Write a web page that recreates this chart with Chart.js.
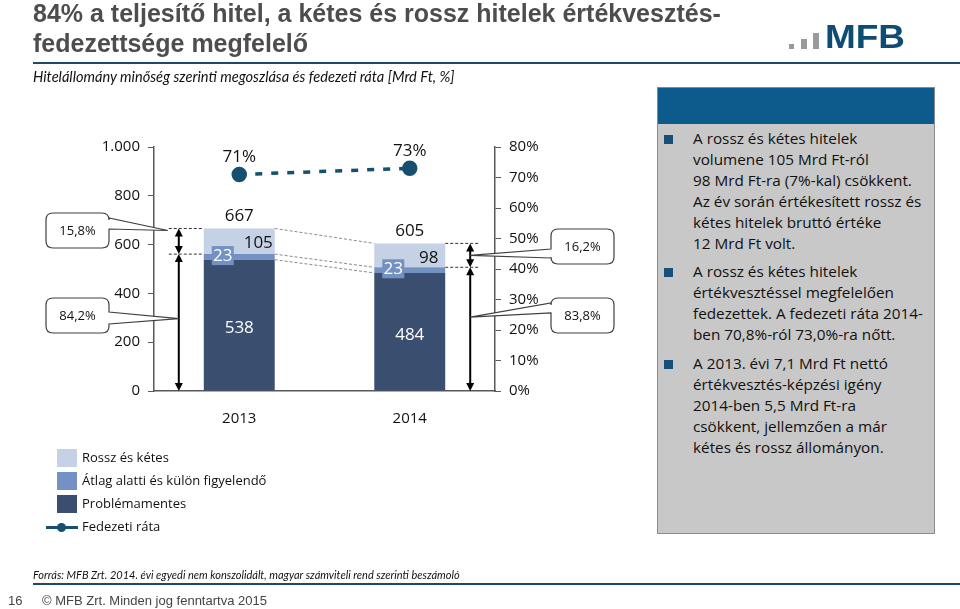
<!DOCTYPE html>
<html lang="hu">
<head>
<meta charset="utf-8">
<script src="https://cdn.jsdelivr.net/npm/chart.js@4.4.1/dist/chart.umd.min.js"></script>
<style>
  html, body { margin: 0; padding: 0; background: #fff; }
  body { width: 960px; height: 609px; position: relative; overflow: hidden; font-family: "Open Sans", sans-serif; }
  #chart { position: absolute; left: 0; top: 0; }
  .title { position: absolute; left: 33px; top: -2px; font: bold 25px "Liberation Sans", Arial, sans-serif; color: #4d4d4d; line-height: 30px; }
  .rule { position: absolute; left: 33px; right: 0; height: 2px; background: #1d4a6a; }
  .subtitle { position: absolute; left: 33px; top: 68px; font: italic 14.6px "Lato", sans-serif; color: #111; }
  .logo { position: absolute; left: 825px; top: 18px; font: 900 33px "Liberation Sans", Arial, sans-serif; color: #0e4c74; transform: scaleX(1.12); transform-origin: left top; }
  .lbar { position: absolute; background: #9a9a9a; }
  .panel { position: absolute; left: 657px; top: 87px; width: 276px; height: 445px; background: #c8c8c8; border: 1px solid #8a8a8a; }
  .panel .head { height: 36px; background: #0d5a8c; }
  .panel .item { position: absolute; left: 35px; font-size: 15.3px; line-height: 20.9px; color: #111; white-space: nowrap; }
  .panel .sq { position: absolute; left: 6px; width: 9px; height: 9px; background: #165078; }
  .legend { position: absolute; left: 0; top: 0; font-size: 13px; color: #111; }
  .lg-sq { position: absolute; left: 57px; width: 20px; height: 18px; }
  .lg-tx { position: absolute; left: 82px; white-space: nowrap; }
  .src { position: absolute; left: 33px; top: 568px; font: italic 11px "Lato", sans-serif; color: #111; }
  .foot { position: absolute; top: 593px; font: 13px "Liberation Sans", Arial, sans-serif; color: #444; }
</style>
</head>
<body>
<canvas id="chart" width="960" height="609"></canvas>

<div class="title">84% a teljesítő hitel, a kétes és rossz hitelek értékvesztés-<br>fedezettsége megfelelő</div>
<div class="rule" style="top:62px"></div>
<div class="subtitle">Hitelállomány minőség szerinti megoszlása és fedezeti ráta [Mrd Ft, %]</div>

<div class="lbar" style="left:789px;top:44px;height:5px;width:5px"></div>
<div class="lbar" style="left:801px;top:39px;height:10px;width:6px"></div>
<div class="lbar" style="left:813px;top:33px;height:16px;width:6px"></div>
<div class="logo">MFB</div>

<div class="panel">
  <div class="head"></div>
  <div class="sq" style="top:47px"></div>
  <div class="item" style="top:40px">A rossz és kétes hitelek<br>volumene 105 Mrd Ft-ról<br>98 Mrd Ft-ra (7%-kal) csökkent.<br>Az év során értékesített rossz és<br>kétes hitelek bruttó értéke<br>12 Mrd Ft volt.</div>
  <div class="sq" style="top:180px"></div>
  <div class="item" style="top:173px">A rossz és kétes hitelek<br>értékvesztéssel megfelelően<br>fedezettek. A fedezeti ráta 2014-<br>ben 70,8%-ról 73,0%-ra nőtt.</div>
  <div class="sq" style="top:272px"></div>
  <div class="item" style="top:265px">A 2013. évi 7,1 Mrd Ft nettó<br>értékvesztés-képzési igény<br>2014-ben 5,5 Mrd Ft-ra<br>csökkent, jellemzően a már<br>kétes és rossz állományon.</div>
</div>

<div class="legend" id="legend"></div>

<div class="src">Forrás: MFB Zrt. 2014. évi egyedi nem konszolidált, magyar számviteli rend szerinti beszámoló</div>
<div class="rule" style="top:583px"></div>
<div class="foot" style="left:8px">16</div>
<div class="foot" style="left:42px">© MFB Zrt. Minden jog fenntartva 2015</div>

<script>
/* ----------------------------------------------------------
   DATA
---------------------------------------------------------- */
const years = ["2013", "2014"];
const problemFree = [538, 484];      // Problémamentes
const watchList = [23, 23];          // Átlag alatti és külön figyelendő
const badDoubtful = [105, 98];       // Rossz és kétes
const totals = [667, 605];
const coverage = [71, 73];           // Fedezeti ráta, %
const badShare = ["15,8%", "16,2%"];
const goodShare = ["84,2%", "83,8%"];
const seriesNames = ["Rossz és kétes", "Átlag alatti és külön figyelendő", "Problémamentes", "Fedezeti ráta"];

const COL_DARK = "#3a4e6f";
const COL_MID = "#7391c2";
const COL_LIGHT = "#c5d1e5";
const COL_LINE = "#17506f";
const FONT = "'Open Sans', sans-serif";

/* ----------------------------------------------------------
   LEGEND (html)
---------------------------------------------------------- */
const legendEl = document.getElementById("legend");
const legendCols = [COL_LIGHT, COL_MID, COL_DARK];
seriesNames.forEach((name, i) => {
  const top = 449 + i * 23;
  if (i < 3) {
    legendEl.insertAdjacentHTML("beforeend",
      `<div class="lg-sq" style="top:${top}px;background:${legendCols[i]}"></div>`);
  } else {
    legendEl.insertAdjacentHTML("beforeend",
      `<div style="position:absolute;left:46px;top:${top + 8}px;width:32px;height:3px;background:${COL_LINE}"></div>
       <div style="position:absolute;left:57px;top:${top + 5}px;width:9px;height:9px;border-radius:50%;background:${COL_LINE}"></div>`);
  }
  legendEl.insertAdjacentHTML("beforeend",
    `<div class="lg-tx" style="top:${top - 1}px">${name}</div>`);
});

/* ----------------------------------------------------------
   HELPERS FOR OVERLAY
---------------------------------------------------------- */
function arrowHead(ctx, x, y, dir) {
  ctx.beginPath();
  ctx.moveTo(x, y);
  ctx.lineTo(x - 4, y + dir * 8);
  ctx.lineTo(x + 4, y + dir * 8);
  ctx.closePath();
  ctx.fill();
}

function doubleArrow(ctx, x, y1, y2) {
  ctx.save();
  ctx.strokeStyle = "#000";
  ctx.fillStyle = "#000";
  ctx.lineWidth = 2;
  ctx.beginPath();
  ctx.moveTo(x, y1 + 5);
  ctx.lineTo(x, y2 - 5);
  ctx.stroke();
  arrowHead(ctx, x, y1, 1);
  arrowHead(ctx, x, y2, -1);
  ctx.restore();
}

function dashed(ctx, x1, y1, x2, y2, color) {
  ctx.save();
  ctx.strokeStyle = color || "#555";
  ctx.lineWidth = 1;
  ctx.setLineDash([3, 2]);
  ctx.beginPath();
  ctx.moveTo(x1, y1);
  ctx.lineTo(x2, y2);
  ctx.stroke();
  ctx.restore();
}

// rounded box with a wedge pointing to (tx, ty); side = "right" or "left"
function callout(ctx, bx, by, bw, bh, w1, w2, tx, ty, side, text) {
  const r = 7;
  ctx.save();
  ctx.fillStyle = "#fff";
  ctx.strokeStyle = "#404040";
  ctx.lineWidth = 1.2;
  ctx.beginPath();
  ctx.moveTo(bx + r, by);
  ctx.lineTo(bx + bw - r, by);
  ctx.quadraticCurveTo(bx + bw, by, bx + bw, by + r);
  if (side === "right") {
    ctx.lineTo(bx + bw, w1);
    ctx.lineTo(tx, ty);
    ctx.lineTo(bx + bw, w2);
  }
  ctx.lineTo(bx + bw, by + bh - r);
  ctx.quadraticCurveTo(bx + bw, by + bh, bx + bw - r, by + bh);
  ctx.lineTo(bx + r, by + bh);
  ctx.quadraticCurveTo(bx, by + bh, bx, by + bh - r);
  if (side === "left") {
    ctx.lineTo(bx, w2);
    ctx.lineTo(tx, ty);
    ctx.lineTo(bx, w1);
  }
  ctx.lineTo(bx, by + r);
  ctx.quadraticCurveTo(bx, by, bx + r, by);
  ctx.closePath();
  ctx.fill();
  ctx.stroke();
  ctx.fillStyle = "#111";
  ctx.font = "13px " + FONT;
  ctx.textAlign = "center";
  ctx.textBaseline = "middle";
  ctx.fillText(text, bx + bw / 2, by + bh / 2 + 1);
  ctx.restore();
}

/* ----------------------------------------------------------
   OVERLAY PLUGIN: labels, arrows, connectors, callouts
---------------------------------------------------------- */
const overlayPlugin = {
  id: "overlay",
  afterDatasetsDraw(chart) {
    const { ctx } = chart;
    const y = chart.scales.y;
    const bars = chart.getDatasetMeta(0).data;
    const pts = chart.getDatasetMeta(3).data;
    const geo = bars.map((b, i) => ({
      cx: b.x,
      left: b.x - b.width / 2,
      right: b.x + b.width / 2,
      top: y.getPixelForValue(problemFree[i] + watchList[i] + badDoubtful[i]),
      mid: y.getPixelForValue(problemFree[i] + watchList[i]),
      dark: y.getPixelForValue(problemFree[i]),
      base: y.getPixelForValue(0)
    }));

    // dashed connectors between the two bars
    const g0 = geo[0], g1 = geo[1];
    ["top", "mid", "dark"].forEach(k => dashed(ctx, g0.right, g0[k], g1.left, g1[k], "#8a8a8a"));

    ctx.save();
    ctx.textAlign = "center";
    ctx.textBaseline = "middle";
    geo.forEach((g, i) => {
      // total above bar
      ctx.fillStyle = "#111";
      ctx.font = "17px " + FONT;
      ctx.fillText(totals[i], g.cx, g.top - 12);
      // bad & doubtful value
      ctx.fillText(badDoubtful[i], g.cx + 19, g.top + 15);
      // watch list box
      ctx.fillStyle = COL_MID;
      ctx.fillRect(g.left + 8, g.mid - 8, 22, 19);
      ctx.fillStyle = "#fff";
      ctx.fillText(watchList[i], g.left + 19, g.mid + 2);
      // problem free value
      ctx.fillText(problemFree[i], g.cx, (g.dark + g.base) / 2 + 3);
      // coverage labels
      ctx.fillStyle = "#111";
      ctx.fillText(coverage[i] + "%", pts[i].x, pts[i].y - 17);
    });
    ctx.restore();

    // arrows + dotted guides
    const axL = g0.left - 25;
    const axR = g1.right + 25;
    dashed(ctx, axL - 10, g0.top, g0.left, g0.top, "#333");
    dashed(ctx, axL - 10, g0.mid, g0.left, g0.mid, "#333");
    dashed(ctx, g1.right, g1.top, axR + 10, g1.top, "#333");
    dashed(ctx, g1.right, g1.mid, axR + 10, g1.mid, "#333");
    doubleArrow(ctx, axL, g0.top, g0.mid);
    doubleArrow(ctx, axL, g0.mid, g0.base);
    doubleArrow(ctx, axR, g1.top, g1.mid);
    doubleArrow(ctx, axR, g1.mid, g1.base);

    // callouts
    callout(ctx, 46, 213, 63, 35, 218, 229, axL - 11, g0.top + 2, "right", badShare[0]);
    callout(ctx, 46, 298, 63, 35, 312, 324, axL, (g0.mid + g0.base) / 2 - 4, "right", goodShare[0]);
    callout(ctx, 551, 229, 63, 35, 249, 258, axR, (g1.top + g1.mid) / 2, "left", badShare[1]);
    callout(ctx, 551, 298, 63, 35, 303, 313, axR, (g1.mid + g1.base) / 2 - 12, "left", goodShare[1]);
  }
};

/* ----------------------------------------------------------
   CHART
---------------------------------------------------------- */
const tickFont = { family: "'Open Sans', sans-serif", size: 15 };

new Chart(document.getElementById("chart"), {
  data: {
    labels: years,
    datasets: [
      { type: "bar", label: seriesNames[2], data: problemFree, backgroundColor: COL_DARK, yAxisID: "y", stack: "s", order: 2 },
      { type: "bar", label: seriesNames[1], data: watchList, backgroundColor: COL_MID, yAxisID: "y", stack: "s", order: 2 },
      { type: "bar", label: seriesNames[0], data: badDoubtful, backgroundColor: COL_LIGHT, yAxisID: "y", stack: "s", order: 2 },
      {
        type: "line", label: seriesNames[3], data: coverage, yAxisID: "y1", order: 1,
        borderColor: COL_LINE, backgroundColor: COL_LINE, borderWidth: 3.5,
        borderDash: [7, 9], pointRadius: 6, pointHoverRadius: 6, tension: 0
      }
    ]
  },
  options: {
    responsive: false,
    animation: false,
    events: [],
    layout: { padding: { left: 94, right: 405, top: 147, bottom: 178 } },
    datasets: { bar: { categoryPercentage: 1, barPercentage: 0.416 } },
    plugins: { legend: { display: false }, tooltip: { enabled: false } },
    scales: {
      x: {
        stacked: true,
        offset: true,
        afterFit: s => { s.height = 40; },
        grid: { display: false },
        border: { display: true, color: "#595959", width: 1.5 },
        ticks: { font: tickFont, color: "#111", padding: 11 }
      },
      y: {
        stacked: true,
        position: "left",
        min: 0, max: 1000,
        afterFit: s => { s.width = 60; },
        grid: { drawOnChartArea: false, drawTicks: true, tickLength: 6, color: "#595959" },
        border: { display: true, color: "#595959", width: 1.5 },
        ticks: {
          stepSize: 200, font: tickFont, color: "#111", padding: 8,
          callback: v => v.toLocaleString("de-DE")
        }
      },
      y1: {
        position: "right",
        min: 0, max: 80,
        afterFit: s => { s.width = 60; },
        grid: { drawOnChartArea: false, drawTicks: true, tickLength: 6, color: "#595959" },
        border: { display: true, color: "#595959", width: 1.5 },
        ticks: { stepSize: 10, font: tickFont, color: "#111", padding: 8, callback: v => v + "%" }
      }
    }
  },
  plugins: [overlayPlugin]
});
</script>
</body>
</html>
